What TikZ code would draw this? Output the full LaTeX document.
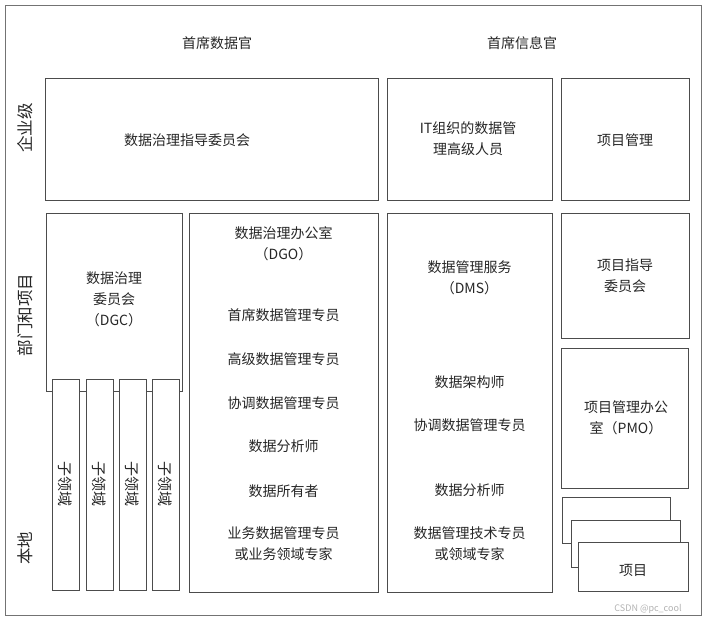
\documentclass[tikz,border=0pt]{standalone}
\usepackage{fontspec}
\setmainfont{Noto Sans CJK SC}
\begin{document}
\begin{tikzpicture}[x=1pt,y=-1pt,
  box/.style={draw=black!70, line width=0.9pt, fill=white, inner sep=0pt},
  frame/.style={draw=black!55, line width=1pt, inner sep=0pt},
  txt/.style={text=black!85, font=\fontsize{14}{21}\selectfont, align=center, inner sep=0pt},
  side/.style={text=black!85, font=\fontsize{16.5}{20}\selectfont, inner sep=0pt, rotate=90},
  sub/.style={text=black!85, font=\fontsize{15}{18}\selectfont, inner sep=0pt, rotate=-90}]
\useasboundingbox (0,0) rectangle (706,622);
\node[frame, minimum width=696pt, minimum height=610pt] (outer) at (353,310) {};
% titles
\node[txt] (cdo) at (217,43) {首席数据官};
\node[txt] (cio) at (522,43) {首席信息官};
% side labels
\node[side] (ent) at (25,128) {企业级};
\node[side] (dept) at (25,315) {部门和项目};
\node[side] (local) at (25,548) {本地};
% top row
\node[box, minimum width=333pt, minimum height=122pt] (steer) at (211.5,139) {};
\node[txt] (steert) at (187,140) {数据治理指导委员会};
\node[box, minimum width=165pt, minimum height=122pt] (it) at (469.5,139) {};
\node[txt] (itt) at (468,139) {IT组织的数据管\\理高级人员};
\node[box, minimum width=128pt, minimum height=122pt] (pm) at (625,139) {};
\node[txt] (pmt) at (625,140) {项目管理};
% DGC
\node[box, minimum width=136pt, minimum height=178pt] (dgc) at (114,302) {};
\node[txt] (dgct) at (114,299) {数据治理\\委员会\\（DGC）};
\foreach \i/\cx in {1/65.5,2/99.5,3/132.5,4/165.5}{
  \node[box, minimum width=27pt, minimum height=211pt] (sd\i) at (\cx,484.5) {};
  \node[sub] (sdt\i) at (\cx,484) {子领域};
}
% DGO
\node[box, minimum width=189pt, minimum height=379pt] (dgo) at (283.5,402.5) {};
\node[txt] (dgo1) at (283.5,244) {数据治理办公室\\（DGO）};
\node[txt] (dgo2) at (283.5,315) {首席数据管理专员};
\node[txt] (dgo3) at (283.5,359) {高级数据管理专员};
\node[txt] (dgo4) at (283.5,403) {协调数据管理专员};
\node[txt] (dgo5) at (283.5,446) {数据分析师};
\node[txt] (dgo6) at (283.5,491) {数据所有者};
\node[txt] (dgo7) at (283.5,544) {业务数据管理专员\\或业务领域专家};
% DMS
\node[box, minimum width=165pt, minimum height=379pt] (dms) at (469.5,402.5) {};
\node[txt] (dms1) at (469.5,278) {数据管理服务\\（DMS）};
\node[txt] (dms2) at (469.5,382) {数据架构师};
\node[txt] (dms3) at (469.5,425) {协调数据管理专员};
\node[txt] (dms4) at (469.5,490) {数据分析师};
\node[txt] (dms5) at (469.5,544) {数据管理技术专员\\或领域专家};
% right column
\node[box, minimum width=128pt, minimum height=125pt] (psc) at (625,275.5) {};
\node[txt] (psct) at (625,276) {项目指导\\委员会};
\node[box, minimum width=127pt, minimum height=140pt] (pmo) at (624.5,418) {};
\node[txt] (pmot) at (626,418) {项目管理办公\\室（PMO）};
\node[box, minimum width=108pt, minimum height=46pt] (pr1) at (616,520) {};
\node[box, minimum width=109pt, minimum height=47pt] (pr2) at (625.5,543.5) {};
\node[box, minimum width=110pt, minimum height=49pt] (pr3) at (633,566.5) {};
\node[txt] (prt) at (633,570) {项目};
% watermark
\node[text=black!30, font=\fontsize{9}{10}\selectfont, inner sep=0pt] (wm) at (648,609) {CSDN @pc\_cool};
\end{tikzpicture}
\end{document}
